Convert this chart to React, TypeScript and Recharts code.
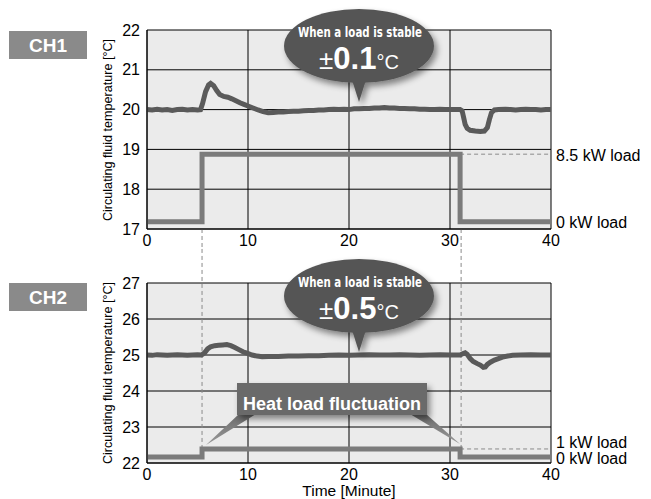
import React from 'react';
import { LineChart, Line, XAxis, YAxis, CartesianGrid, ReferenceLine, Label } from 'recharts';

const FONT = '"Liberation Sans", Arial, Helvetica, sans-serif';
const NARROW = '"Liberation Sans Narrow", "DejaVu Sans Condensed", "Liberation Sans", sans-serif';

// time axis (minutes)
const timeTicks = [0, 10, 20, 30, 40];
const ch1Ticks = [17, 18, 19, 20, 21, 22];
const ch2Ticks = [22, 23, 24, 25, 26, 27];

// CH1 circulating fluid temperature [°C]
const ch1Temp = [
  { t: 0, v: 20.0 }, { t: 0.5, v: 19.99 }, { t: 1, v: 20.01 }, { t: 1.5, v: 19.99 },
  { t: 2, v: 20.0 }, { t: 2.5, v: 19.98 }, { t: 3, v: 20.0 }, { t: 3.5, v: 20.01 },
  { t: 4, v: 19.99 }, { t: 4.5, v: 20.0 }, { t: 5, v: 19.99 }, { t: 5.3, v: 20.0 },
  { t: 5.5, v: 20.15 }, { t: 5.8, v: 20.45 }, { t: 6.1, v: 20.62 }, { t: 6.3, v: 20.66 },
  { t: 6.6, v: 20.6 }, { t: 6.9, v: 20.48 }, { t: 7.2, v: 20.38 }, { t: 7.6, v: 20.33 },
  { t: 8, v: 20.31 }, { t: 8.4, v: 20.27 }, { t: 8.8, v: 20.22 }, { t: 9.2, v: 20.17 },
  { t: 9.6, v: 20.13 }, { t: 10, v: 20.09 }, { t: 10.5, v: 20.04 }, { t: 11, v: 19.99 },
  { t: 11.5, v: 19.95 }, { t: 12, v: 19.92 }, { t: 12.5, v: 19.93 }, { t: 13, v: 19.94 },
  { t: 13.5, v: 19.94 }, { t: 14, v: 19.95 }, { t: 14.5, v: 19.96 }, { t: 15, v: 19.96 },
  { t: 15.5, v: 19.97 }, { t: 16, v: 19.98 }, { t: 16.5, v: 19.98 }, { t: 17, v: 19.99 },
  { t: 17.5, v: 19.99 }, { t: 18, v: 20.0 }, { t: 18.5, v: 20.01 }, { t: 19, v: 20.0 },
  { t: 19.5, v: 20.01 }, { t: 20, v: 20.0 }, { t: 20.5, v: 20.02 }, { t: 21, v: 20.02 },
  { t: 21.5, v: 20.03 }, { t: 22, v: 20.03 }, { t: 22.5, v: 20.04 }, { t: 23, v: 20.04 },
  { t: 23.5, v: 20.05 }, { t: 24, v: 20.04 }, { t: 24.5, v: 20.04 }, { t: 25, v: 20.03 },
  { t: 25.5, v: 20.03 }, { t: 26, v: 20.02 }, { t: 26.5, v: 20.02 }, { t: 27, v: 20.01 },
  { t: 27.5, v: 20.01 }, { t: 28, v: 20.0 }, { t: 28.5, v: 20.0 }, { t: 29, v: 20.01 },
  { t: 29.5, v: 20.0 }, { t: 30, v: 20.0 }, { t: 30.5, v: 20.0 }, { t: 31, v: 20.0 },
  { t: 31.2, v: 19.97 }, { t: 31.35, v: 19.8 }, { t: 31.5, v: 19.63 }, { t: 31.7, v: 19.53 },
  { t: 32, v: 19.48 }, { t: 32.5, v: 19.46 }, { t: 33, v: 19.45 }, { t: 33.4, v: 19.46 },
  { t: 33.7, v: 19.55 }, { t: 33.9, v: 19.75 }, { t: 34.1, v: 19.92 }, { t: 34.4, v: 19.99 },
  { t: 34.8, v: 20.0 }, { t: 35.5, v: 20.01 }, { t: 36, v: 20.0 }, { t: 36.5, v: 19.99 },
  { t: 37, v: 20.0 }, { t: 37.5, v: 20.01 }, { t: 38, v: 20.0 }, { t: 38.5, v: 20.0 },
  { t: 39, v: 19.99 }, { t: 39.5, v: 20.0 }, { t: 40, v: 20.0 },
];

// CH1 heat load step, drawn on the temperature scale (0 kW / 8.5 kW)
const ch1Load = [
  { t: 0, v: 17.18 }, { t: 5.45, v: 17.18 }, { t: 5.45, v: 18.88 },
  { t: 31.0, v: 18.88 }, { t: 31.0, v: 17.18 }, { t: 40, v: 17.18 },
];

// CH2 circulating fluid temperature [°C]
const ch2Temp = [
  { t: 0, v: 25.0 }, { t: 0.5, v: 24.99 }, { t: 1, v: 25.01 }, { t: 1.5, v: 25.0 },
  { t: 2, v: 24.99 }, { t: 2.5, v: 25.0 }, { t: 3, v: 25.01 }, { t: 3.5, v: 25.0 },
  { t: 4, v: 24.99 }, { t: 4.5, v: 25.0 }, { t: 5, v: 25.01 }, { t: 5.4, v: 25.0 },
  { t: 5.7, v: 25.06 }, { t: 6.0, v: 25.17 }, { t: 6.3, v: 25.23 }, { t: 6.7, v: 25.26 },
  { t: 7.1, v: 25.27 }, { t: 7.5, v: 25.28 }, { t: 7.9, v: 25.29 }, { t: 8.3, v: 25.26 },
  { t: 8.7, v: 25.21 }, { t: 9.1, v: 25.15 }, { t: 9.5, v: 25.09 }, { t: 9.9, v: 25.05 },
  { t: 10.4, v: 25.0 }, { t: 10.9, v: 24.97 }, { t: 11.4, v: 24.95 }, { t: 12, v: 24.96 },
  { t: 13, v: 24.96 }, { t: 14, v: 24.97 }, { t: 15, v: 24.97 }, { t: 16, v: 24.98 },
  { t: 17, v: 24.98 }, { t: 18, v: 24.99 }, { t: 19, v: 25.0 }, { t: 20, v: 24.99 },
  { t: 21, v: 25.0 }, { t: 22, v: 25.01 }, { t: 23, v: 25.0 }, { t: 24, v: 25.0 },
  { t: 25, v: 25.01 }, { t: 26, v: 25.0 }, { t: 27, v: 24.99 }, { t: 28, v: 25.0 },
  { t: 29, v: 25.01 }, { t: 30, v: 25.0 }, { t: 31, v: 25.0 }, { t: 31.3, v: 25.04 },
  { t: 31.5, v: 25.06 }, { t: 31.7, v: 25.02 }, { t: 32, v: 24.9 }, { t: 32.3, v: 24.82 },
  { t: 32.7, v: 24.76 }, { t: 33, v: 24.72 }, { t: 33.3, v: 24.66 }, { t: 33.5, v: 24.67 },
  { t: 33.7, v: 24.74 }, { t: 34, v: 24.8 }, { t: 34.4, v: 24.86 }, { t: 34.8, v: 24.9 },
  { t: 35.2, v: 24.94 }, { t: 35.7, v: 24.97 }, { t: 36.2, v: 24.99 }, { t: 37, v: 25.0 },
  { t: 38, v: 25.01 }, { t: 39, v: 25.0 }, { t: 40, v: 25.0 },
];

// CH2 heat load step (0 kW / 1 kW)
const ch2Load = [
  { t: 0, v: 22.17 }, { t: 5.45, v: 22.17 }, { t: 5.45, v: 22.39 },
  { t: 31.0, v: 22.39 }, { t: 31.0, v: 22.17 }, { t: 40, v: 22.17 },
];

const TRACE = '#5a5a5a';
const LOAD = '#7b7b7b';
const DASH = '#8a8a8a';

const tickStyle = { fill: '#000', fontSize: 16, fontFamily: FONT };

const Bubble = ({ cy, tipY, value }: { cy: number; tipY: number; value: string }) => (
  <g>
    <g filter="url(#shadow)">
      <ellipse cx={359} cy={cy} rx={75} ry={37} fill="#555" />
      <polygon points={`352,${cy + 34} 366,${cy + 34} 359,${tipY}`} fill="#555" />
    </g>
    <text x={360} y={cy - 9} textAnchor="middle" fill="#fff" fontFamily={NARROW} fontWeight="bold"
      fontSize={14} textLength={124} lengthAdjust="spacingAndGlyphs">When a load is stable</text>
    <text x={359} y={cy + 23} textAnchor="middle" fill="#fff" fontFamily={FONT}>
      <tspan fontSize={26}>±</tspan>
      <tspan fontSize={31} fontWeight="bold">{value}</tspan>
      <tspan fontSize={20}>°C</tspan>
    </text>
  </g>
);

const ChBox = ({ y, name }: { y: number; name: string }) => (
  <g>
    <rect x={9} y={y} width={78} height={28} fill="#8a8a8a" />
    <text x={48} y={y + 21} textAnchor="middle" fill="#fff" fontFamily={FONT} fontWeight="bold" fontSize={19}>{name}</text>
  </g>
);

const YTitle = ({ cy }: { cy: number }) => (
  <text x={0} y={0} transform={`translate(112, ${cy}) rotate(-90)`} textAnchor="middle" fill="#000"
    fontFamily={FONT} fontSize={12.6}>Circulating fluid temperature [°C]</text>
);

const RightLabel = ({ y, text }: { y: number; text: string }) => (
  <text x={556} y={y} fill="#000" fontFamily={FONT} fontSize={16} dominantBaseline="central">{text}</text>
);

export default function App() {
  return (
    <div style={{ position: 'absolute', left: 0, top: 0, width: 651, height: 499, background: '#fff' }}>
      <div style={{ position: 'absolute', left: 0, top: 0 }}>
        <LineChart width={651} height={250} margin={{ top: 30, right: 100, bottom: 0, left: 0 }}>
          <CartesianGrid stroke="#000" fill="#ebebeb" />
          <XAxis dataKey="t" type="number" domain={[0, 40]} ticks={timeTicks} height={21}
            axisLine={{ stroke: '#000' }} tickLine={false} tickSize={6} tickMargin={0} tick={tickStyle} />
          <YAxis type="number" domain={[17, 22]} ticks={ch1Ticks} width={147}
            axisLine={{ stroke: '#000' }} tickLine={false} tickSize={6} tickMargin={1} tick={tickStyle} />
          <ReferenceLine segment={[{ x: 31.0, y: 18.88 }, { x: 40, y: 18.88 }]} stroke={DASH} strokeDasharray="4 3" ifOverflow="visible" />
          <ReferenceLine segment={[{ x: 5.45, y: 17 }, { x: 5.45, y: 16.4 }]} stroke={DASH} strokeDasharray="4 3" ifOverflow="visible" />
          <ReferenceLine segment={[{ x: 31.1, y: 17 }, { x: 31.1, y: 16.4 }]} stroke={DASH} strokeDasharray="4 3" ifOverflow="visible" />
          <Line data={ch1Load} dataKey="v" type="linear" stroke={LOAD} strokeWidth={5} dot={false} isAnimationActive={false} />
          <Line data={ch1Temp} dataKey="v" type="linear" stroke={TRACE} strokeWidth={5} dot={false} isAnimationActive={false} />
        </LineChart>
      </div>
      <div style={{ position: 'absolute', left: 0, top: 0 }}>
        <LineChart width={651} height={499} margin={{ top: 283, right: 100, bottom: 0, left: 0 }}>
          <CartesianGrid stroke="#000" fill="#ebebeb" />
          <XAxis dataKey="t" type="number" domain={[0, 40]} ticks={timeTicks} height={36}
            axisLine={{ stroke: '#000' }} tickLine={false} tickSize={6} tickMargin={0} tick={tickStyle}>
            <Label value="Time [Minute]" position="insideBottom" offset={3} fill="#000" fontSize={15.5} fontFamily={FONT} />
          </XAxis>
          <YAxis type="number" domain={[22, 27]} ticks={ch2Ticks} width={147}
            axisLine={{ stroke: '#000' }} tickLine={false} tickSize={6} tickMargin={1} tick={tickStyle} />
          <ReferenceLine segment={[{ x: 31.0, y: 22.39 }, { x: 40, y: 22.39 }]} stroke={DASH} strokeDasharray="4 3" ifOverflow="visible" />
          <ReferenceLine segment={[{ x: 5.45, y: 22.39 }, { x: 5.45, y: 28.0 }]} stroke={DASH} strokeDasharray="4 3" ifOverflow="visible" />
          <ReferenceLine segment={[{ x: 31.1, y: 22.39 }, { x: 31.1, y: 28.0 }]} stroke={DASH} strokeDasharray="4 3" ifOverflow="visible" />
          <Line data={ch2Load} dataKey="v" type="linear" stroke={LOAD} strokeWidth={5} dot={false} isAnimationActive={false} />
          <Line data={ch2Temp} dataKey="v" type="linear" stroke={TRACE} strokeWidth={5} dot={false} isAnimationActive={false} />
        </LineChart>
      </div>
      <svg width={651} height={499} style={{ position: 'absolute', left: 0, top: 0, pointerEvents: 'none' }}>
        <defs>
          <filter id="shadow" x="-20%" y="-20%" width="150%" height="160%">
            <feDropShadow dx={3} dy={4} stdDeviation={3} floodColor="#000" floodOpacity={0.45} />
          </filter>
          <linearGradient id="wedge" x1="0" y1="0" x2="0" y2="1">
            <stop offset="0" stopColor="#6b6b6b" />
            <stop offset="1" stopColor="#9a9a9a" />
          </linearGradient>
        </defs>
        <ChBox y={31} name="CH1" />
        <ChBox y={283} name="CH2" />
        <YTitle cy={130} />
        <YTitle cy={373} />
        <RightLabel y={155} text="8.5 kW load" />
        <RightLabel y={222} text="0 kW load" />
        <RightLabel y={442} text="1 kW load" />
        <RightLabel y={458} text="0 kW load" />
        <Bubble cy={46} tipY={102} value="0.1" />
        <Bubble cy={296} tipY={352} value="0.5" />
        <g>
          <polygon points="239,414 256,414 206,445" fill="url(#wedge)" />
          <polygon points="410,414 426,414 460,444" fill="url(#wedge)" />
          <rect x={237} y={383} width={190} height={32} fill="#6b6b6b" filter="url(#shadow)" />
          <text x={332} y={410} textAnchor="middle" fill="#fff" fontFamily={FONT} fontWeight="bold" fontSize={18}>Heat load fluctuation</text>
        </g>
      </svg>
    </div>
  );
}
